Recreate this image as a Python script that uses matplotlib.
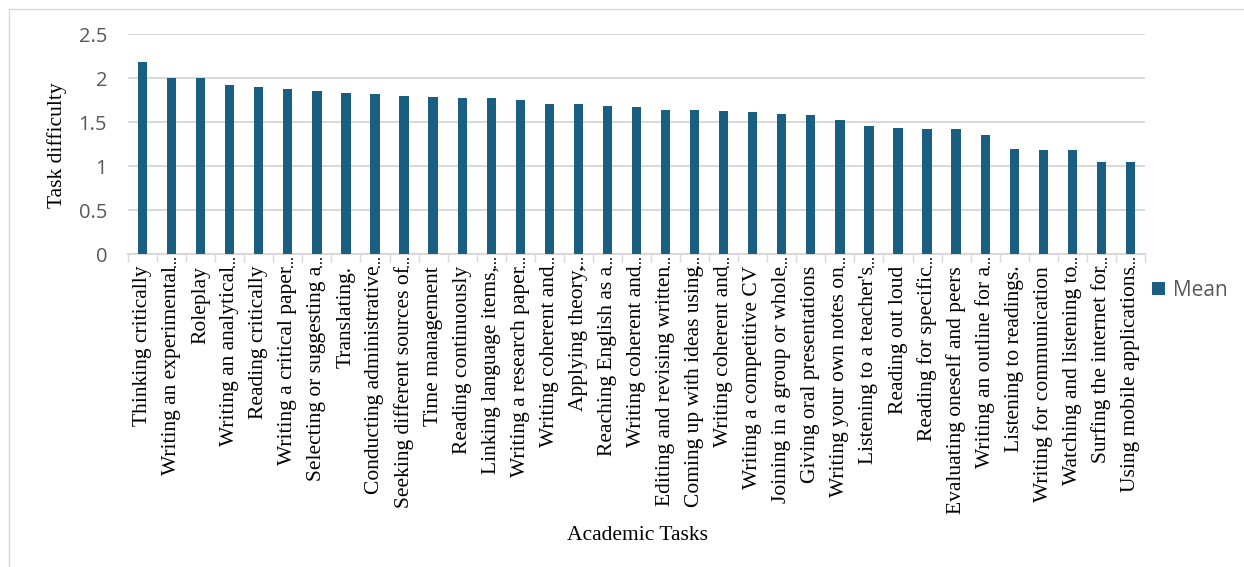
import matplotlib
matplotlib.use("Agg")
import matplotlib.pyplot as plt
from matplotlib.patches import Rectangle
from matplotlib.transforms import IdentityTransform

tasks = [
    "Thinking critically", "Writing an experimental…", "Roleplay",
    "Writing an analytical…", "Reading critically", "Writing a critical paper…",
    "Selecting or suggesting a…", "Translating.", "Conducting administrative…",
    "Seeking different sources of…", "Time management", "Reading continuously",
    "Linking language items,…", "Writing a research paper…", "Writing coherent and…",
    "Applying theory,…", "Reaching English as a…", "Writing coherent and…",
    "Editing and revising written…", "Coming up with ideas using…",
    "Writing coherent and…", "Writing a competitive CV", "Joining in a group or whole…",
    "Giving oral presentations", "Writing your own notes on…",
    "Listening to a teacher's…", "Reading out loud", "Reading for specific…",
    "Evaluating oneself and peers", "Writing an outline for a…",
    "Listening to readings.", "Writing for communication",
    "Watching and listening to…", "Surfing the internet for…",
    "Using mobile applications…",
]
mean = [
    2.18, 2.00, 2.00, 1.92, 1.90, 1.87, 1.85, 1.83, 1.82, 1.80,
    1.78, 1.77, 1.77, 1.75, 1.71, 1.71, 1.68, 1.67, 1.64, 1.64,
    1.63, 1.61, 1.59, 1.58, 1.52, 1.45, 1.43, 1.42, 1.42, 1.35,
    1.19, 1.18, 1.18, 1.05, 1.05,
]
y_ticks = [0, 0.5, 1, 1.5, 2, 2.5]
y_tick_labels = ["0", "0.5", "1", "1.5", "2", "2.5"]

W, H = 1244, 567
LABEL_SIZE = 15.5
fig = plt.figure(figsize=(W / 100, H / 100), dpi=100)
fig.patch.set_facecolor("white")

# light frame around the chart area
fig.patches.append(Rectangle((9 / W, -0.05), 1.2, 1 - 9 / H + 0.05,
                             transform=fig.transFigure, fill=False,
                             edgecolor="#d9d9d9", linewidth=1.0))

ax = fig.add_axes([128 / W, 1 - 254 / H, (1145 - 128) / W, (254 - 34) / H])
x = list(range(len(tasks)))
ax.bar(x, mean, width=0.32, color="#1a5e82", label="Mean", zorder=3)

ax.set_xlim(-0.5, len(tasks) - 0.5)
ax.set_ylim(0, 2.5)
ax.set_yticks(y_ticks)
ax.set_yticklabels(y_tick_labels, family="Open Sans", fontsize=14.5, color="#595959")
ax.tick_params(axis="y", length=0, pad=15)

# truncated names: the body goes on the tick, a compact ellipsis is added after
truncated = [t.endswith("…") for t in tasks]
bodies = [t[:-1] if tr else t for t, tr in zip(tasks, truncated)]
ax.set_xticks(x)
ax.set_xticklabels(bodies, rotation=90, family="Liberation Serif", fontsize=LABEL_SIZE,
                   color="black", va="top", ha="center")
ax.tick_params(axis="x", which="major", length=0, pad=8.5)
ax.set_xticks([i - 0.5 for i in range(len(tasks) + 1)], minor=True)
ax.tick_params(axis="x", which="minor", length=6, color="#d9d9d9", width=1.0)

ax.grid(axis="y", color="#d9d9d9", linewidth=1.5, zorder=0)
for s in ["top", "right", "left"]:
    ax.spines[s].set_visible(False)
ax.spines["bottom"].set_color("#d9d9d9")
ax.spines["bottom"].set_linewidth(1.5)

fig.text(57 / W, 1 - 145 / H, "Task difficulty", rotation=90, ha="center",
         va="center", family="Liberation Serif", fontsize=LABEL_SIZE)
fig.text(637 / W, 1 - 535 / H, "Academic Tasks", ha="center", va="center",
         family="Liberation Serif", fontsize=LABEL_SIZE)

leg = ax.legend(loc="center left", bbox_to_anchor=(1152 / W, 1 - 290 / H),
                bbox_transform=fig.transFigure, frameon=False,
                handlelength=0.6, handleheight=0.6, handletextpad=0.4,
                borderaxespad=0, borderpad=0,
                prop={"family": "Open Sans", "size": 15})
for t in leg.get_texts():
    t.set_color("#595959")

fig.canvas.draw()
renderer = fig.canvas.get_renderer()
descent = 0.216 * LABEL_SIZE * 100 / 72
for lbl, tr in zip(ax.get_xticklabels(), truncated):
    if not tr:
        continue
    bb = lbl.get_window_extent(renderer)
    fig.text(bb.x1 - descent, bb.y1 - 1, "…", transform=IdentityTransform(),
             rotation=90, rotation_mode="anchor", ha="left", va="baseline",
             family="Liberation Serif", fontweight="bold", fontsize=8.5,
             color="black")

fig.savefig("out.png", dpi=100)
